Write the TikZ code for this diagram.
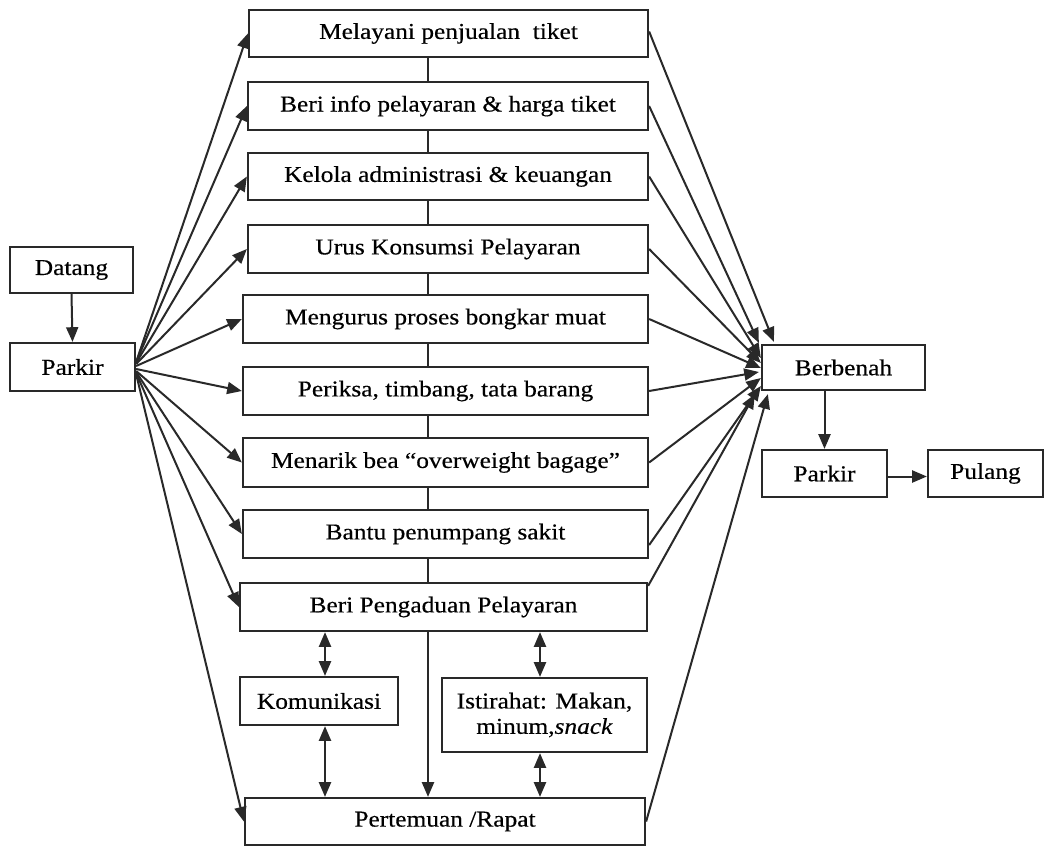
\documentclass[tikz,border=0pt]{standalone}
\usepackage{fontspec}
\setmainfont{Liberation Serif}[FakeStretch=1.12,FakeBold=0.4]
\usetikzlibrary{arrows.meta,calc}
\definecolor{ink}{rgb}{0.16,0.16,0.16}
\begin{document}
\begin{tikzpicture}[x=0.75pt,y=-0.75pt,
  bx/.style={draw=ink, line width=1.7pt, fill=white, inner sep=0pt, align=center,
             font=\fontsize{17}{19}\selectfont},
  wh/.style 2 args={minimum width=0.75pt*#1, minimum height=0.75pt*#2},
  ln/.style={draw=ink, line width=1.5pt},
  con/.style={ln, -{Triangle[length=11pt,width=9pt]}},
  dcon/.style={ln, {Triangle[length=11pt,width=9pt]}-{Triangle[length=11pt,width=9pt]}}]
\useasboundingbox (0,0) rectangle (1050,847);
\fill[white] (0,0) rectangle (1050,847);
\coordinate (vx) at (428,0);
\coordinate (kx) at (325,0);
\coordinate (ix) at (540,0);
% vertical line behind main boxes
\draw[ln, line width=1.1pt] (428,57) -- (428,583);
% boxes
\node[bx, wh={123}{46}] (d) at (71.5,270) {Datang};
\node[bx, wh={125}{48}] (p1) at (72.5,367) {Parkir};
\node[bx, wh={399}{47}] (m1) at (448.5,33.5) {Melayani penjualan\ \ tiket};
\node[bx, wh={400}{48}] (m2) at (448,106) {Beri info pelayaran \& harga tiket};
\node[bx, wh={400}{47}] (m3) at (448,176.5) {Kelola administrasi \& keuangan};
\node[bx, wh={400}{48}] (m4) at (448,249) {Urus Konsumsi Pelayaran};
\node[bx, wh={405}{48}] (m5) at (445.5,319) {Mengurus proses bongkar muat};
\node[bx, wh={405}{48}] (m6) at (445.5,391) {Periksa, timbang, tata barang};
\node[bx, wh={405}{49}] (m7) at (445.5,462.5) {Menarik bea “overweight bagage”};
\node[bx, wh={405}{48}] (m8) at (445.5,534) {Bantu penumpang sakit};
\node[bx, wh={407}{48}] (m9) at (443.5,607) {Beri Pengaduan Pelayaran};
\node[bx, wh={158}{48}] (kom) at (319,701) {Komunikasi};
\node[bx, wh={205}{74}] (ist) at (544.5,715) {Istirahat: Makan,\\minum,\textit{snack}};
\node[bx, wh={400}{47}] (pert) at (445,821.5) {Pertemuan /Rapat};
\node[bx, wh={163}{45}] (b) at (843.5,367.5) {Berbenah};
\node[bx, wh={125}{47}] (p2) at (824.5,473.5) {Parkir};
\node[bx, wh={115}{47}] (pu) at (985.5,473.5) {Pulang};
% middle connectors
\draw[con] (m9.south -| vx) -- (pert.north -| vx);
\draw[dcon] (m9.south -| kx) -- (kom.north -| kx);
\draw[dcon] (kom.south -| kx) -- (pert.north -| kx);
\draw[dcon] (m9.south -| ix) -- (ist.north -| ix);
\draw[dcon] (ist.south -| ix) -- (pert.north -| ix);
% left side
\draw[con] (d.south) -- (p1.north);
\draw[con] ($(p1.east)+(0,-5)$) -- (m1.west);
\draw[con] ($(p1.east)+(0,-5)$) -- (m2.west);
\draw[con] ($(p1.east)+(0,-4)$) -- (m3.west);
\draw[con] ($(p1.east)+(0,-3)$) -- (m4.west);
\draw[con] ($(p1.east)+(0,-1)$) -- (m5.west);
\draw[con] ($(p1.east)+(0,2)$) -- (m6.west);
\draw[con] ($(p1.east)+(0,4)$) -- (m7.west);
\draw[con] ($(p1.east)+(0,5)$) -- (m8.west);
\draw[con] ($(p1.east)+(0,6)$) -- (m9.west);
\draw[con] ($(p1.east)+(0,7)$) -- (pert.west);
% right side
\draw[con] ($(m1.east)+(0,-2)$) -- ($(b.north west)+(13,-2)$);
\draw[con] (m2.east) -- ($(b.north west)+(-2,-1)$);
\draw[con] (m3.east) -- ($(b.west)+(0,-9.5)$);
\draw[con] (m4.east) -- ($(b.west)+(0,-4.5)$);
\draw[con] (m5.east) -- ($(b.west)+(0,0.5)$);
\draw[con] (m6.east) -- ($(b.west)+(-2,4.5)$);
\draw[con] (m7.east) -- ($(b.west)+(0,10.5)$);
\draw[con] ($(m8.east)+(0,11)$) -- ($(b.west)+(0,18.5)$);
\draw[con] ($(m9.north east)+(0,4)$) -- ($(b.south west)+(-6,3)$);
\draw[con] (pert.east) -- ($(b.south west)+(7,3)$);
% exit
\draw[con] (b.south -| p2.north) -- (p2.north);
\draw[con] ($(p2.east)+(0,3)$) -- ($(pu.west)+(0,3)$);
\end{tikzpicture}
\end{document}
